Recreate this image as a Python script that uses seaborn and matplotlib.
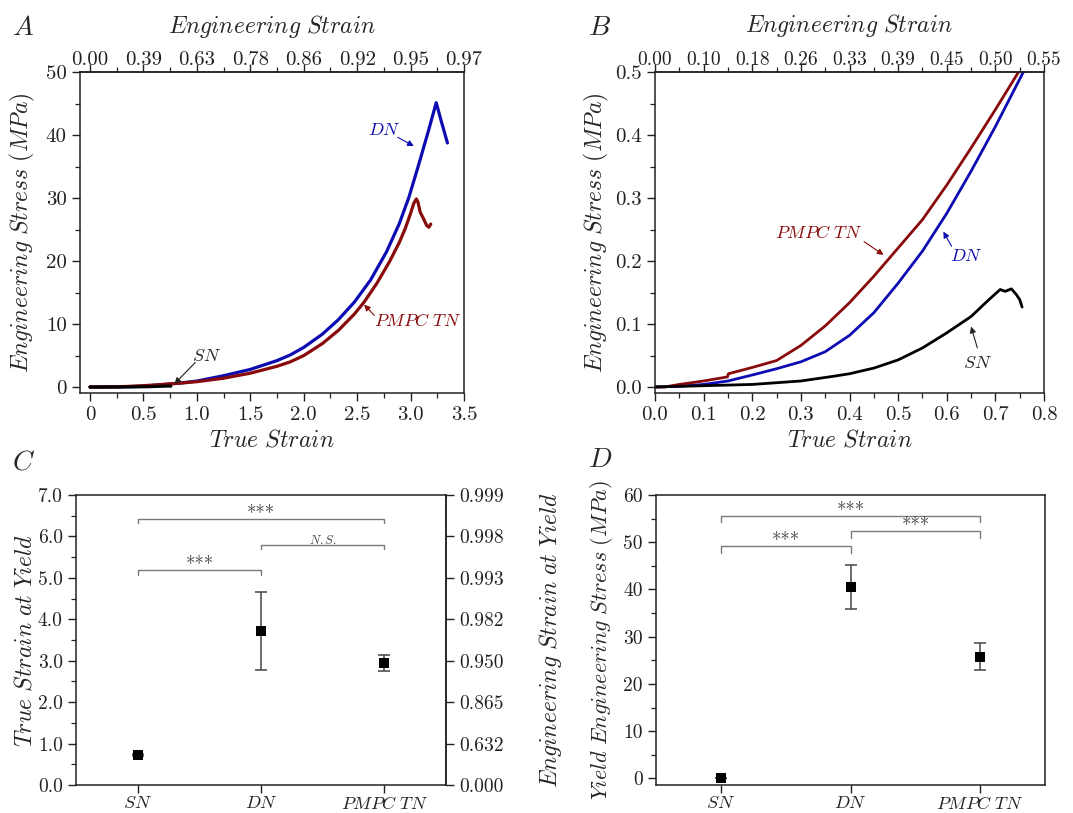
import numpy as np
import pandas as pd
import matplotlib
matplotlib.use("Agg")
import matplotlib.pyplot as plt
import seaborn as sns
from matplotlib.ticker import MultipleLocator, FuncFormatter

# ---------------- data ----------------
sn_strain = [0.0, 0.1, 0.2, 0.3, 0.367, 0.4, 0.45, 0.5, 0.55, 0.6, 0.65, 0.687,
             0.71, 0.72, 0.733, 0.743, 0.75, 0.755]
sn_stress = [0.0, 0.002, 0.004, 0.0095, 0.017, 0.021, 0.030, 0.043, 0.062, 0.086,
             0.112, 0.139, 0.155, 0.152, 0.156, 0.147, 0.139, 0.127]

dn_strain = [0.0, 0.05, 0.1, 0.15, 0.2, 0.25, 0.3, 0.35, 0.4, 0.45, 0.5, 0.55, 0.6,
             0.65, 0.7, 0.757, 0.85, 1.0, 1.25, 1.5, 1.75, 1.874, 2.0, 2.174,
             2.324, 2.474, 2.625, 2.775, 2.895, 2.985, 3.075, 3.165, 3.24, 3.285,
             3.345]
dn_stress = [0.0, 0.001, 0.004, 0.0095, 0.019, 0.029, 0.040, 0.056, 0.082, 0.118,
             0.165, 0.216, 0.276, 0.343, 0.414, 0.5, 0.65, 0.95, 1.8, 2.8, 4.2,
             5.1, 6.3, 8.4, 10.7, 13.5, 17.0, 21.5, 26.0, 30.2, 35.3, 40.6, 45.2,
             42.4, 38.8]

pmpc_strain = [0.0, 0.02, 0.05, 0.1, 0.149, 0.151, 0.2, 0.25, 0.3, 0.35, 0.4, 0.45,
               0.5, 0.55, 0.6, 0.65, 0.7, 0.747, 0.85, 1.0, 1.25, 1.5, 1.75, 1.874,
               2.0, 2.174, 2.324, 2.474, 2.565, 2.685, 2.805, 2.895, 2.95, 3.0,
               3.03, 3.054, 3.069, 3.09, 3.12, 3.15, 3.171, 3.189]
pmpc_stress = [0.0, 0.0, 0.004, 0.0095, 0.016, 0.021, 0.031, 0.042, 0.066, 0.097,
               0.134, 0.176, 0.221, 0.266, 0.321, 0.380, 0.441, 0.5, 0.62, 0.85,
               1.4, 2.2, 3.3, 4.0, 5.0, 6.9, 9.0, 11.6, 13.5, 16.5, 20.0, 23.0,
               25.2, 27.6, 29.2, 29.9, 29.4, 27.8, 26.8, 25.7, 25.4, 25.9]

categories = ["SN", "DN", "PMPC TN"]
yield_strain = [0.72, 3.72, 2.95]
yield_strain_err = [0.03, 0.95, 0.19]
yield_stress = [0.1, 40.5, 25.8]
yield_stress_err = [0.05, 4.65, 2.9]

# significance brackets: (i, j, height, label)
brackets_c = [(0, 2, 6.42, "***"), (1, 2, 5.80, "N.S."), (0, 1, 5.18, "***")]
brackets_d = [(0, 2, 55.6, "***"), (1, 2, 52.3, "***"), (0, 1, 49.2, "***")]

# ---------------- style ----------------
sns.set_style("ticks")
plt.rcParams.update({
    "font.family": "serif",
    "font.serif": ["cmr10", "DejaVu Serif"],
    "mathtext.fontset": "cm",
    "axes.formatter.use_mathtext": True,
    "axes.linewidth": 1.1,
    "axes.edgecolor": "#222222",
    "xtick.color": "#222222",
    "ytick.color": "#222222",
    "xtick.direction": "out",
    "ytick.direction": "out",
    "xtick.major.size": 6,
    "ytick.major.size": 6,
    "xtick.minor.size": 3.5,
    "ytick.minor.size": 3.5,
    "xtick.major.width": 1.0,
    "ytick.major.width": 1.0,
    "xtick.minor.width": 0.9,
    "ytick.minor.width": 0.9,
})

BLUE = "#0c0cb2"
RED = "#880a0a"
BLACK = "#000000"


def it(s):
    return r"$\mathit{" + s.replace(" ", r"\ ") + "}$"


fig = plt.figure(figsize=(10.73, 8.13), dpi=100)
W, H = 1073.0, 813.0


def add_ax(l, t, r, b):
    return fig.add_axes([l / W, 1 - b / H, (r - l) / W, (b - t) / H])


axA = add_ax(80, 72.5, 464, 393)
axB = add_ax(655, 72.5, 1044, 393)
axC = add_ax(76, 495, 446, 785)
axD = add_ax(656, 495, 1045, 785)

LBL = 17
TCK = 15

# ---------------- panel A ----------------
for xs, ys, c in [(dn_strain, dn_stress, BLUE), (pmpc_strain, pmpc_stress, RED),
                  (sn_strain, sn_stress, BLACK)]:
    sns.lineplot(x=xs, y=ys, ax=axA, color=c, lw=2.3, sort=False, estimator=None)
axA.set_xlim(-0.094, 3.5)
axA.set_ylim(-0.95, 50)
axA.xaxis.set_major_locator(MultipleLocator(0.5))
axA.xaxis.set_minor_locator(MultipleLocator(0.25))
axA.yaxis.set_major_locator(MultipleLocator(10))
axA.yaxis.set_minor_locator(MultipleLocator(5))
axA.xaxis.set_major_formatter(FuncFormatter(lambda v, p: "0" if abs(v) < 1e-9 else f"{v:.1f}"))
axA.yaxis.set_major_formatter(FuncFormatter(lambda v, p: f"{v:.0f}"))
axA.tick_params(labelsize=TCK, which="both", top=False, right=False)
axA.set_xlabel(it("True Strain"), fontsize=LBL, labelpad=4)
axA.set_ylabel(it("Engineering Stress (MPa)"), fontsize=LBL, labelpad=6)
secA = axA.secondary_xaxis("top")
secA.xaxis.set_major_locator(MultipleLocator(0.5))
secA.xaxis.set_minor_locator(MultipleLocator(0.25))
secA.xaxis.set_major_formatter(FuncFormatter(lambda v, p: f"{1 - np.exp(-v):.2f}"))
secA.tick_params(labelsize=TCK, which="both", direction="out")
secA.tick_params(which="major", pad=-3.5)
secA.set_xlabel(it("Engineering Strain"), fontsize=LBL, labelpad=13)

arrow_kw = dict(arrowstyle="-|>", lw=0.8, mutation_scale=9, shrinkA=0, shrinkB=0)
axA.text(2.76, 40.9, it("DN"), color=BLUE, fontsize=13, ha="center", va="center")
axA.annotate("", xy=(3.03, 38.3), xytext=(2.88, 39.7),
             arrowprops=dict(color=BLUE, **arrow_kw))
axA.text(3.07, 10.5, it("PMPC TN"), color=RED, fontsize=13, ha="center", va="center")
axA.annotate("", xy=(2.565, 13.1), xytext=(2.66, 11.4),
             arrowprops=dict(color=RED, **arrow_kw))
axA.text(1.09, 5.0, it("SN"), color="#222222", fontsize=13, ha="center", va="center")
axA.annotate("", xy=(0.79, 0.5), xytext=(0.985, 3.9),
             arrowprops=dict(color="#222222", **arrow_kw))

# ---------------- panel B ----------------
for xs, ys, c in [(dn_strain, dn_stress, BLUE), (pmpc_strain, pmpc_stress, RED),
                  (sn_strain, sn_stress, BLACK)]:
    sns.lineplot(x=xs, y=ys, ax=axB, color=c, lw=2.0, sort=False, estimator=None)
axB.set_xlim(0, 0.8)
axB.set_ylim(-0.0096, 0.5)
axB.xaxis.set_major_locator(MultipleLocator(0.1))
axB.xaxis.set_minor_locator(MultipleLocator(0.05))
axB.yaxis.set_major_locator(MultipleLocator(0.1))
axB.yaxis.set_minor_locator(MultipleLocator(0.05))
axB.xaxis.set_major_formatter(FuncFormatter(lambda v, p: f"{v:.1f}"))
axB.yaxis.set_major_formatter(FuncFormatter(lambda v, p: f"{v:.1f}"))
axB.tick_params(labelsize=TCK, which="both", top=False, right=False)
axB.set_xlabel(it("True Strain"), fontsize=LBL, labelpad=4)
axB.set_ylabel(it("Engineering Stress (MPa)"), fontsize=LBL, labelpad=3)
secB = axB.secondary_xaxis("top")
secB.xaxis.set_major_locator(MultipleLocator(0.1))
secB.xaxis.set_minor_locator(MultipleLocator(0.05))
secB.xaxis.set_major_formatter(FuncFormatter(lambda v, p: f"{1 - np.exp(-v):.2f}"))
secB.tick_params(labelsize=14, which="both", direction="out")
secB.tick_params(which="major", pad=-3.2)
secB.set_xlabel(it("Engineering Strain"), fontsize=LBL, labelpad=13.5)

axB.text(0.337, 0.245, it("PMPC TN"), color=RED, fontsize=13, ha="center", va="center")
axB.annotate("", xy=(0.47, 0.210), xytext=(0.43, 0.231),
             arrowprops=dict(color=RED, **arrow_kw))
axB.text(0.64, 0.208, it("DN"), color=BLUE, fontsize=13, ha="center", va="center")
axB.annotate("", xy=(0.593, 0.247), xytext=(0.61, 0.2235),
             arrowprops=dict(color=BLUE, **arrow_kw))
axB.text(0.663, 0.038, it("SN"), color="#222222", fontsize=13, ha="center", va="center")
axB.annotate("", xy=(0.65, 0.096), xytext=(0.663, 0.062),
             arrowprops=dict(color="#222222", **arrow_kw))


# ---------------- panels C and D ----------------
def bracket(ax, i, j, h, drop, label):
    ax.plot([i, i, j, j], [h - drop, h, h, h - drop], color="#7a7a7a", lw=1.0)
    if label == "N.S.":
        ax.annotate(it(label), xy=((i + j) / 2, h), xytext=(0, -1.5),
                    textcoords="offset points", ha="center", va="bottom",
                    fontsize=9, color="#444444")
    else:
        ax.annotate(label, xy=((i + j) / 2, h), xytext=(0, -3.5),
                    textcoords="offset points", ha="center", va="bottom",
                    fontsize=13.5, color="#444444")


def point_panel(ax, vals, errs):
    ax.errorbar(x=list(range(len(categories))), y=vals, yerr=errs, fmt="none",
                ecolor="#444444", elinewidth=1.1, capsize=4, capthick=1.1, zorder=2)
    df = pd.DataFrame({"group": categories, "value": vals})
    sns.stripplot(data=df, x="group", y="value", order=categories, jitter=False,
                  marker="s", size=6.5, color="black", ax=ax, zorder=3)
    ax.set_xlim(-0.5, 2.5)
    ax.set_xticks(range(len(categories)))
    ax.set_xticklabels([it(c) for c in categories], fontsize=13)
    ax.tick_params(axis="x", pad=1)
    ax.set_xlabel("")


point_panel(axC, yield_strain, yield_strain_err)
axC.set_ylim(0, 7)
axC.yaxis.set_major_locator(MultipleLocator(1))
axC.yaxis.set_minor_locator(MultipleLocator(0.5))
axC.yaxis.set_major_formatter(FuncFormatter(lambda v, p: f"{v:.1f}"))
axC.tick_params(axis="y", labelsize=14, which="both", right=False)
axC.tick_params(axis="x", which="minor", bottom=False)
axC.set_ylabel(it("True Strain at Yield"), fontsize=LBL, labelpad=1)
secC = axC.secondary_yaxis("right")
secC.yaxis.set_major_locator(MultipleLocator(1))
secC.yaxis.set_major_formatter(FuncFormatter(lambda v, p: f"{1 - np.exp(-v):.3f}"))
secC.tick_params(labelsize=14, direction="out")
secC.set_ylabel(it("Engineering Strain at Yield"), fontsize=LBL, labelpad=24)
for i, j, h, lab in brackets_c:
    bracket(axC, i, j, h, 0.1, lab)

point_panel(axD, yield_stress, yield_stress_err)
axD.set_ylim(-1.4, 60)
axD.yaxis.set_major_locator(MultipleLocator(10))
axD.yaxis.set_minor_locator(MultipleLocator(5))
axD.yaxis.set_major_formatter(FuncFormatter(lambda v, p: f"{v:.0f}"))
axD.tick_params(axis="y", labelsize=14, which="both", right=False)
axD.set_ylabel(it("Yield Engineering Stress (MPa)"), fontsize=16, labelpad=6)
for i, j, h, lab in brackets_d:
    bracket(axD, i, j, h, 1.4, lab)

for ax in (axA, axB, axC, axD):
    for s in ax.spines.values():
        s.set_visible(True)

# panel letters
for lab, x, y in [("A", 12, 28), ("B", 588, 28), ("C", 12, 462), ("D", 588, 460)]:
    fig.text(x / W, 1 - y / H, it(lab), fontsize=20, ha="left", va="center")

fig.savefig("out.png", dpi=100)
